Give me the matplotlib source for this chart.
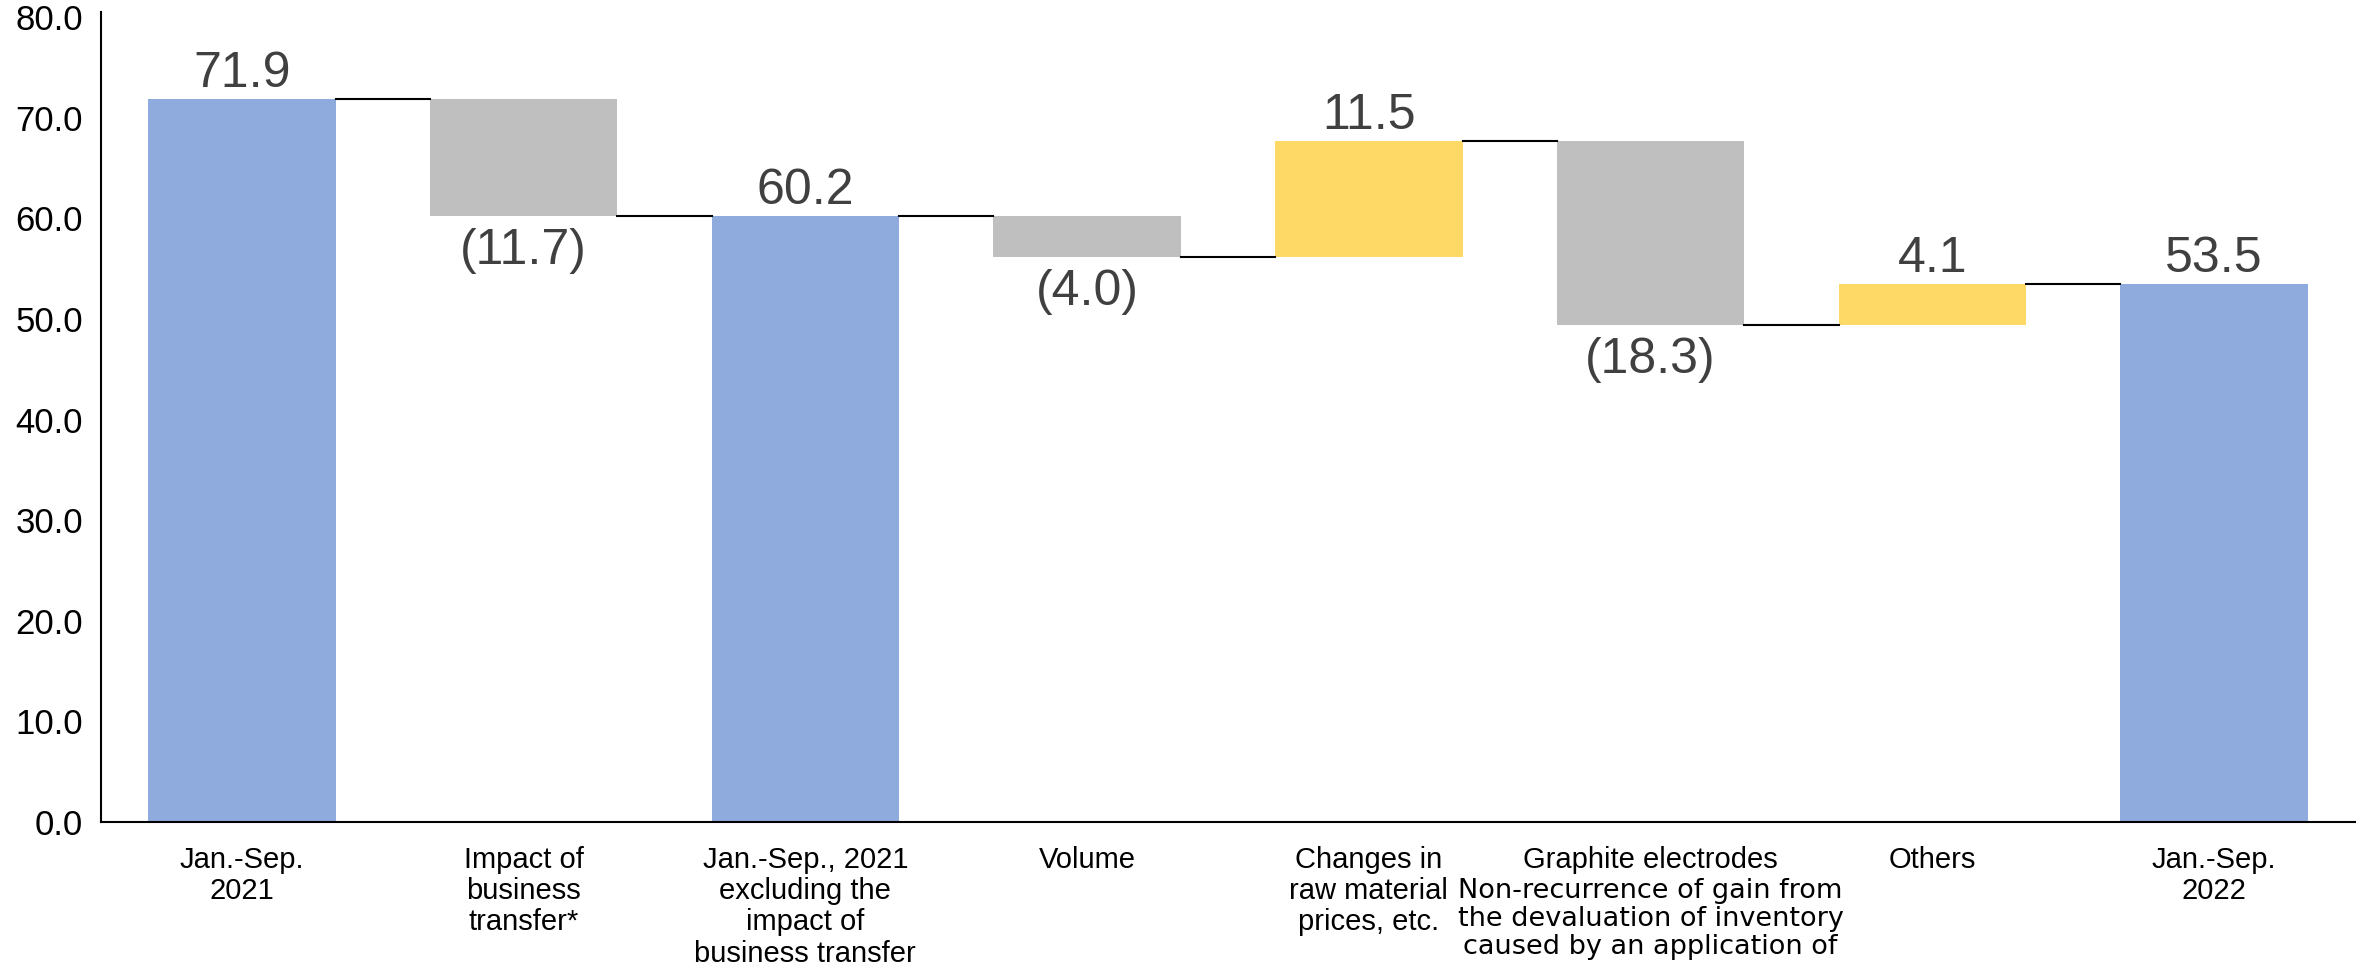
import matplotlib.pyplot as plt
import numpy as np

# Datos del gráfico de cascada
categories = ['Jan.-Sep.\n2021', 'Impact of\nbusiness\ntransfer*',
              'Jan.-Sep., 2021\nexcluding the\nimpact of\nbusiness transfer',
              'Volume', 'Changes in\nraw material\nprices, etc.',
              'Graphite electrodes', 'Others', 'Jan.-Sep.\n2022']
values = [71.9, -11.7, 60.2, -4.0, 11.5, -18.3, 4.1, 53.5]
is_total = [True, False, True, False, False, False, False, True]
extra_note = 'Non-recurrence of gain from\nthe devaluation of inventory\ncaused by an application of'

c_total = '#8FAADC'
c_up = '#FFD966'
c_down = '#BFBFBF'

plt.rcParams['font.family'] = ['Liberation Sans', 'DejaVu Sans']

fig = plt.figure(figsize=(23.64, 9.73), dpi=100)
ax = fig.add_axes([101 / 2364, 1 - 822 / 973, (2355 - 101) / 2364, (822 - 12) / 973])

x = np.arange(len(values))
width = 0.665
bottoms, heights, colors, ends = [], [], [], []
running = 0.0
for v, tot in zip(values, is_total):
    if tot:
        bottoms.append(0.0)
        heights.append(v)
        colors.append(c_total)
        running = v
    else:
        start = running
        running = start + v
        bottoms.append(min(start, running))
        heights.append(abs(v))
        colors.append(c_up if v > 0 else c_down)
    ends.append(running)

ax.bar(x, heights, bottom=bottoms, width=width, color=colors, zorder=2)

# Líneas de conexión entre barras
for i in range(len(values) - 1):
    ax.plot([x[i] + width / 2, x[i + 1] - width / 2], [ends[i], ends[i]],
            color='black', lw=1.5, zorder=3)

# Etiquetas de valores
for i, v in enumerate(values):
    top = bottoms[i] + heights[i]
    if v >= 0:
        ax.text(x[i], top + 0.2, f'{v:.1f}', ha='center', va='bottom',
                fontsize=36, color='#404040')
    else:
        ax.text(x[i], bottoms[i] - 1.2, f'({abs(v):.1f})', ha='center', va='top',
                fontsize=36, color='#404040')

ax.set_xlim(-0.5, 7.5)
ax.set_ylim(0, 80.5)
ax.set_yticks(np.arange(0, 81, 10))
ax.set_yticklabels([f'{t:.1f}' for t in np.arange(0, 81, 10)], fontsize=25)
ax.set_xticks(x)
ax.set_xticklabels(categories, fontsize=21, linespacing=1.15)
ax.tick_params(axis='both', length=0)
ax.tick_params(axis='x', pad=17)
ax.tick_params(axis='y', pad=13)

# Nota adicional bajo "Graphite electrodes"
ax.annotate(extra_note, xy=(x[5], 0), xycoords=('data', 'axes fraction'),
            xytext=(0, -40), textcoords='offset points',
            ha='center', va='top', fontsize=19.5, family='DejaVu Sans',
            linespacing=1.12, annotation_clip=False)

for s in ['top', 'right']:
    ax.spines[s].set_visible(False)
for s in ['left', 'bottom']:
    ax.spines[s].set_linewidth(1.5)

fig.savefig('out.png', dpi=100)
